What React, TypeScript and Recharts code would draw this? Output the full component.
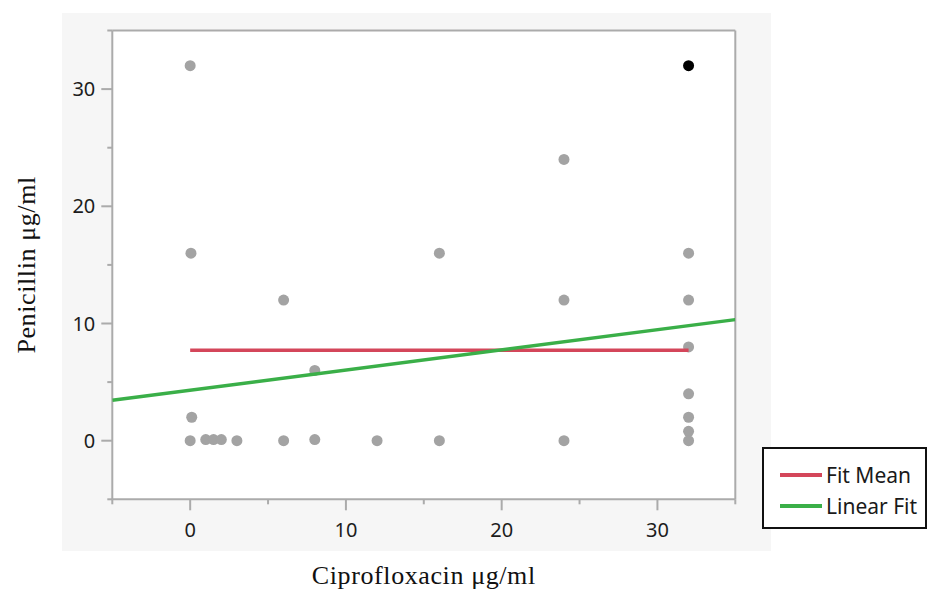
import React from 'react';
import {
  ComposedChart,
  Scatter,
  XAxis,
  YAxis,
  CartesianGrid,
  ReferenceLine,
  Legend,
} from 'recharts';

// raw readings
const ciproX = [0, 0.05, 0.1, 0, 1, 1.5, 2, 3, 6, 6, 8, 8, 12, 16, 16, 24, 24, 24, 32, 32, 32, 32, 32, 32, 32];
const peniY = [32, 16, 2, 0, 0.1, 0.1, 0.1, 0, 12, 0, 6, 0.1, 0, 16, 0, 24, 12, 0, 16, 12, 8, 4, 2, 0.8, 0];

// the selected (black) point
const selX = [32];
const selY = [32];

const fitMeanX = [0, 32];
const fitMeanY = [7.72, 7.72];

const linFitX = [-5, 35];
const linFitY = [3.45, 10.33];

const axisTicks = [-5, 0, 5, 10, 15, 20, 25, 30, 35];

const legendNames = ['Fit Mean', 'Linear Fit'];
const legendColors = ['#d4465a', '#3aaf48'];

const AXIS = '#ababab';
const SANS = '"Noto Sans", "Open Sans", sans-serif';
const SERIF = '"Liberation Serif", "DejaVu Serif", serif';

const pts = ciproX.map((x, i) => ({ x, y: peniY[i] }));
const selPts = selX.map((x, i) => ({ x, y: selY[i] }));
const meanPts = fitMeanX.map((x, i) => ({ x, y: fitMeanY[i] }));
const linPts = linFitX.map((x, i) => ({ x, y: linFitY[i] }));

const YTick = (props: any) => {
  const { x, y, payload } = props;
  const v = payload.value;
  const major = v % 10 === 0;
  return (
    <g>
      <line x1={x} x2={x - (major ? 11 : 5)} y1={y} y2={y} stroke={AXIS} strokeWidth={2} />
      {major && (
        <text x={x - 17} y={y} dy={7} textAnchor="end" fontFamily={SANS} fontSize={20} fill="#1c1c1c">
          {v}
        </text>
      )}
    </g>
  );
};

const XTick = (props: any) => {
  const { x, y, payload } = props;
  const v = payload.value;
  const major = v % 10 === 0;
  return (
    <g>
      <line x1={x} x2={x} y1={y} y2={y + (major ? 11 : 5)} stroke={AXIS} strokeWidth={2} />
      {major && (
        <text x={x} y={y + 38} textAnchor="middle" fontFamily={SANS} fontSize={20} fill="#1c1c1c">
          {v}
        </text>
      )}
    </g>
  );
};

const YTitle = (props: any) => {
  const { viewBox } = props;
  const cy = viewBox.y + viewBox.height / 2;
  return (
    <text
      x={27}
      y={cy}
      transform={`rotate(-90, 27, ${cy})`}
      textAnchor="middle"
      dominantBaseline="central"
      fontFamily={SERIF}
      fontSize={26}
      letterSpacing={0.6}
      fill="#111"
    >
      Penicillin μg/ml
    </text>
  );
};

const XTitle = (props: any) => {
  const { viewBox } = props;
  const cx = viewBox.x + viewBox.width / 2;
  return (
    <text x={cx} y={584} textAnchor="middle" fontFamily={SERIF} fontSize={26} letterSpacing={0.6} fill="#111">
      Ciprofloxacin μg/ml
    </text>
  );
};

const dot = (color: string) => (p: any) => <circle cx={p.cx} cy={p.cy} r={5.5} fill={color} />;
const noDot = () => <g />;

const LegendBox = () => (
  <div
    style={{
      border: '2px solid #111',
      background: '#fff',
      width: 165,
      padding: '10px 0 6px 16px',
      boxSizing: 'border-box',
      fontFamily: SANS,
      fontSize: 21,
      color: '#1a1a1a',
    }}
  >
    {legendNames.map((n, i) => (
      <div key={n} style={{ display: 'flex', alignItems: 'center', height: 31 }}>
        <span style={{ display: 'inline-block', width: 42, height: 4, background: legendColors[i], marginRight: 4 }} />
        <span>{n}</span>
      </div>
    ))}
  </div>
);

export default function App() {
  return (
    <div style={{ position: 'absolute', left: 0, top: 0, width: 929, height: 590 }}>
      <div style={{ position: 'absolute', left: 62, top: 13, width: 709, height: 538, background: '#f6f6f6' }} />
      <div style={{ position: 'absolute', left: 0, top: 0 }}>
        <ComposedChart
          width={929}
          height={590}
          margin={{ top: 30.5, right: 193.7, left: 52.3, bottom: 40.7 }}
        >
          <CartesianGrid horizontal={false} vertical={false} fill="#ffffff" />
          <XAxis
            type="number"
            dataKey="x"
            domain={[-5, 35]}
            ticks={axisTicks}
            allowDataOverflow
            height={50}
            axisLine={{ stroke: AXIS, strokeWidth: 2 }}
            tickLine={false}
            tickSize={0}
            tickMargin={0}
            tick={<XTick />}
            interval={0}
            label={<XTitle />}
          />
          <YAxis
            type="number"
            dataKey="y"
            domain={[-5, 35]}
            ticks={axisTicks}
            allowDataOverflow
            width={60}
            axisLine={{ stroke: AXIS, strokeWidth: 2 }}
            tickLine={false}
            tickSize={0}
            tickMargin={0}
            tick={<YTick />}
            interval={0}
            label={<YTitle />}
          />
          <ReferenceLine y={35} stroke={AXIS} strokeWidth={2} />
          <ReferenceLine x={35} stroke={AXIS} strokeWidth={2} />
          <Scatter data={pts} shape={dot('#a3a3a3')} isAnimationActive={false} />
          <Scatter data={selPts} shape={dot('#000000')} isAnimationActive={false} />
          <Scatter
            data={meanPts}
            shape={noDot}
            line={{ stroke: legendColors[0], strokeWidth: 3.5 }}
            isAnimationActive={false}
          />
          <Scatter
            data={linPts}
            shape={noDot}
            line={{ stroke: legendColors[1], strokeWidth: 3.5 }}
            isAnimationActive={false}
          />
          <Legend
            layout="vertical"
            align="center"
            verticalAlign="middle"
            content={<LegendBox />}
            wrapperStyle={{ left: 762, top: 447, width: 165 }}
          />
        </ComposedChart>
      </div>
    </div>
  );
}
